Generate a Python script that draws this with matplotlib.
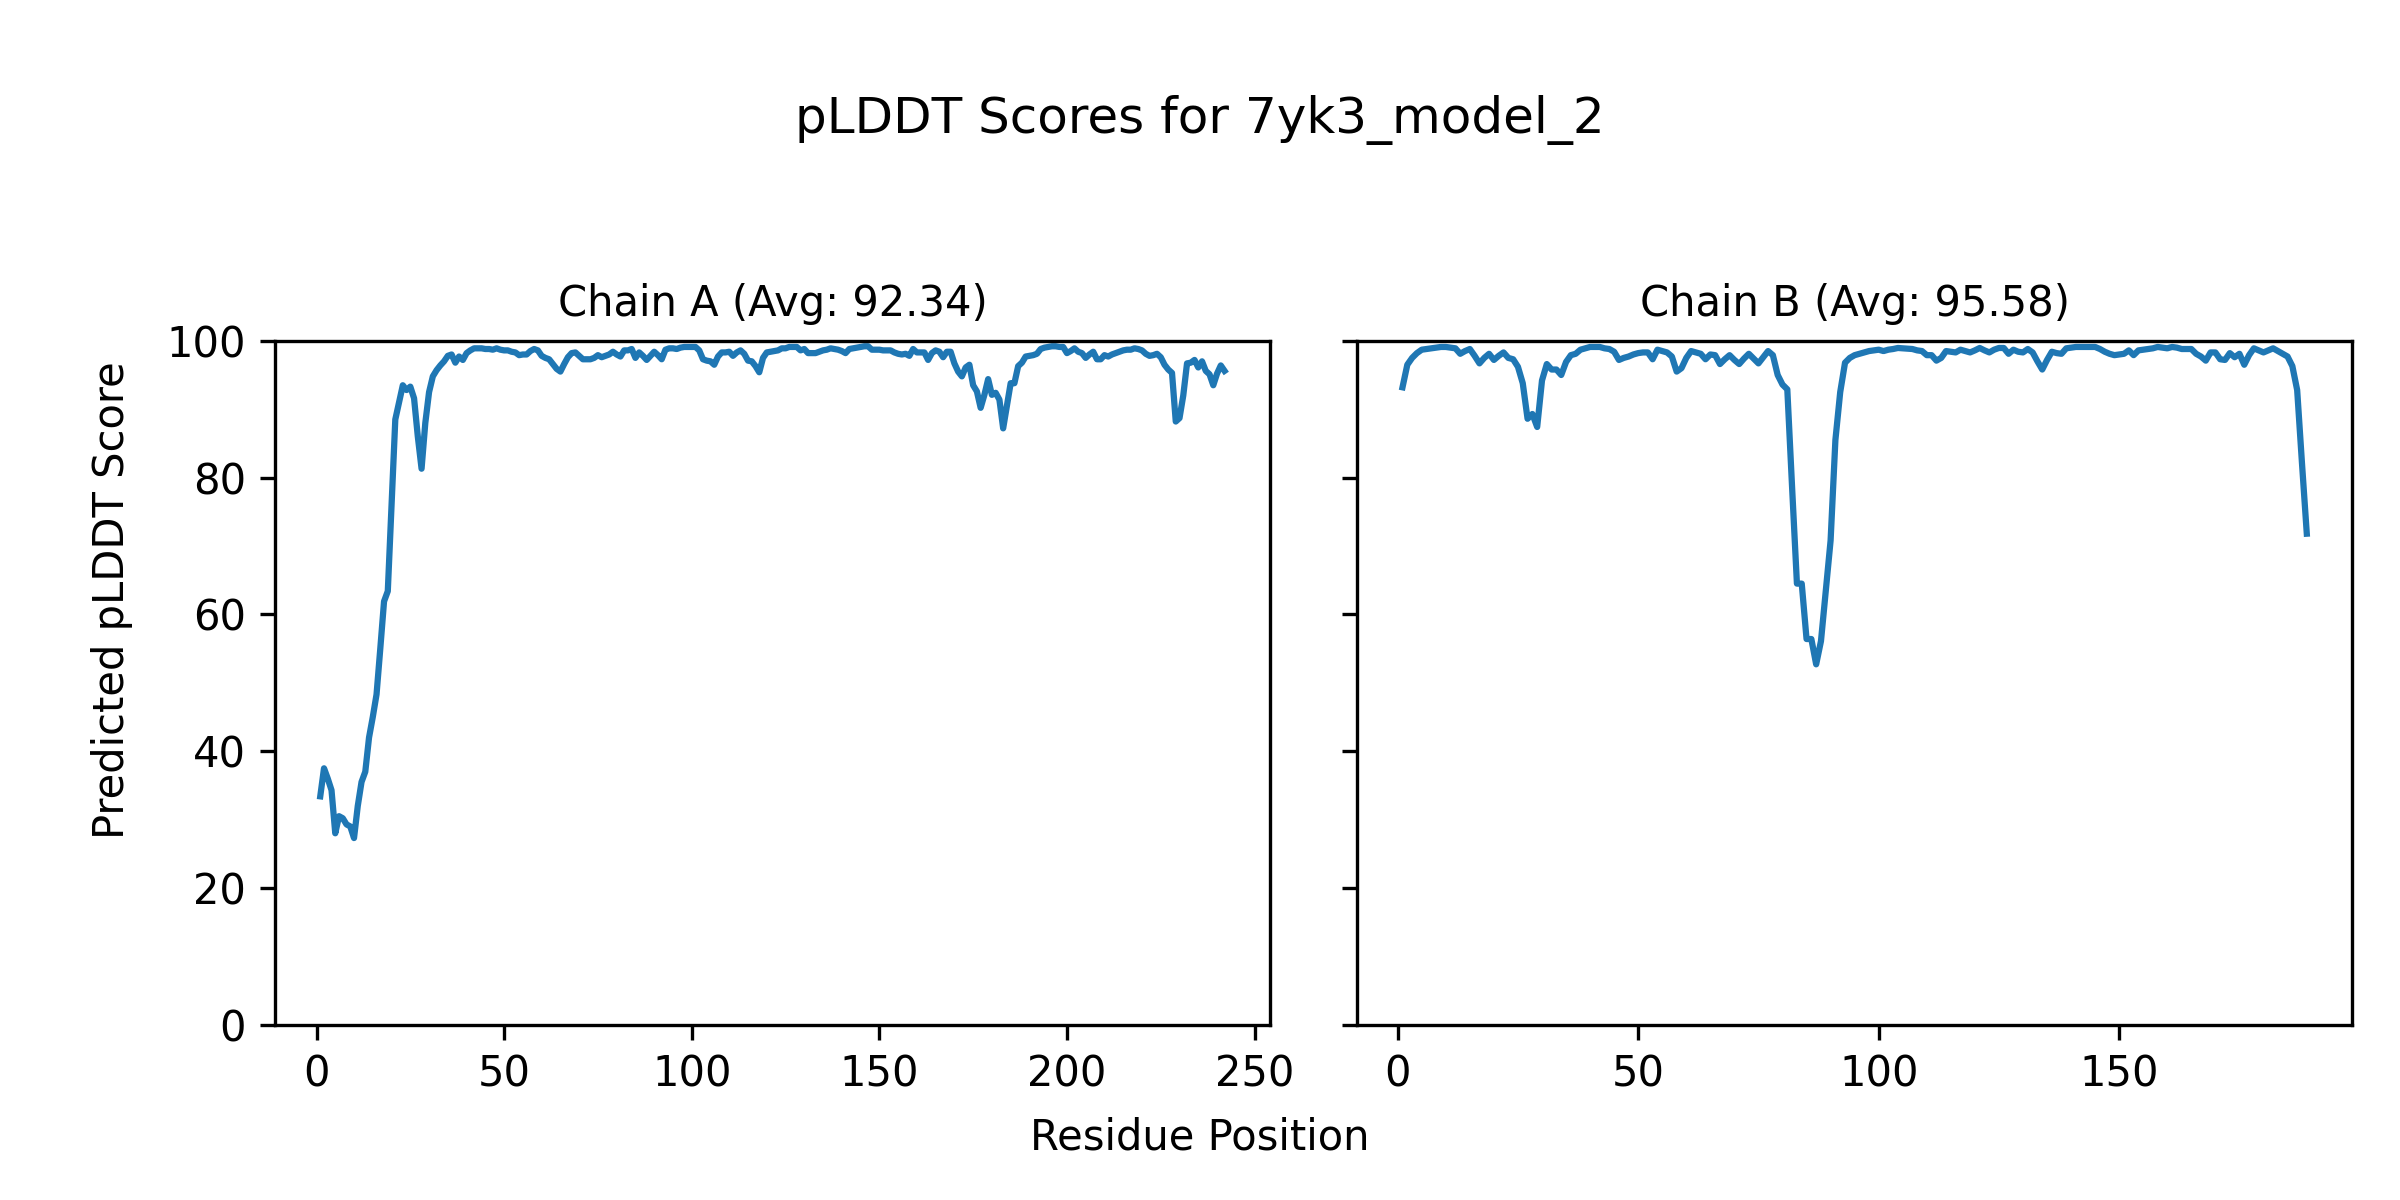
import numpy as np
import matplotlib
matplotlib.use("Agg")
import matplotlib.pyplot as plt

model_name = "7yk3_model_2"

# per-residue pLDDT, chain A (residues 1..242)
chain_a_plddt = [
    33.4, 37.5, 36.0, 34.3, 28.0, 30.5, 30.2, 29.3, 29.0, 27.3,
    32.0, 35.5, 37.0, 42.0, 45.0, 48.3, 55.0, 61.9, 63.4, 76.0,
    88.5, 91.0, 93.5, 92.8, 93.3, 91.6, 86.0, 81.3, 88.0, 92.5,
    94.8, 95.7, 96.4, 97.0, 97.8, 98.0, 96.8, 97.7, 97.2, 98.2,
    98.6, 98.9, 98.9, 98.9, 98.8, 98.8, 98.7, 98.9, 98.7, 98.6,
    98.6, 98.4, 98.3, 97.9, 98.0, 98.0, 98.5, 98.8, 98.6, 97.8,
    97.5, 97.3, 96.6, 95.9, 95.5, 96.6, 97.6, 98.2, 98.3, 97.8,
    97.3, 97.3, 97.3, 97.5, 97.9, 97.6, 97.8, 98.0, 98.4, 98.0,
    97.7, 98.6, 98.6, 98.8, 97.5, 98.3, 97.8, 97.2, 97.8, 98.4,
    97.9, 97.3, 98.7, 98.9, 98.9, 98.8, 99.0, 99.1, 99.1, 99.1,
    99.1, 98.6, 97.3, 97.1, 97.0, 96.5, 97.7, 98.3, 98.3, 98.4,
    97.8, 98.3, 98.6, 98.1, 97.1, 97.0, 96.3, 95.4, 97.5, 98.3,
    98.4, 98.5, 98.6, 98.9, 98.9, 99.1, 99.1, 99.1, 98.6, 98.8,
    98.2, 98.2, 98.2, 98.4, 98.6, 98.7, 98.9, 98.8, 98.7, 98.5,
    98.2, 98.8, 98.9, 99.0, 99.1, 99.2, 99.2, 98.7, 98.7, 98.7,
    98.6, 98.6, 98.6, 98.3, 98.1, 98.0, 98.1, 97.8, 98.8, 98.3,
    98.3, 98.3, 97.2, 98.2, 98.6, 98.4, 97.6, 98.4, 98.4, 96.7,
    95.5, 94.8, 96.1, 96.5, 93.5, 92.6, 90.2, 92.1, 94.4, 92.1,
    92.4, 91.4, 87.2, 90.5, 93.8, 93.8, 96.3, 96.8, 97.7, 97.8,
    97.9, 98.1, 98.8, 99.0, 99.1, 99.2, 99.2, 99.1, 99.1, 98.2,
    98.5, 98.9, 98.4, 98.2, 97.5, 98.0, 98.4, 97.3, 97.3, 97.9,
    97.7, 98.0, 98.2, 98.4, 98.6, 98.7, 98.7, 98.9, 98.8, 98.6,
    98.1, 97.8, 97.9, 98.1, 97.6, 96.5, 95.8, 95.3, 88.2, 88.7,
    92.0, 96.7, 96.8, 97.2, 96.1, 97.0, 95.6, 95.1, 93.5, 95.2,
    96.4, 95.6,
]

# per-residue pLDDT, chain B (residues 1..189)
chain_b_plddt = [
    93.2, 96.5, 97.5, 98.2, 98.7, 98.8, 98.9, 99.0, 99.1, 99.1,
    99.0, 98.9, 98.1, 98.5, 98.8, 97.8, 96.7, 97.5, 98.1, 97.2,
    97.8, 98.3, 97.5, 97.3, 96.2, 93.8, 88.6, 89.3, 87.4, 94.2,
    96.6, 95.8, 95.8, 95.0, 96.9, 97.9, 98.1, 98.7, 98.9, 99.1,
    99.1, 99.1, 98.9, 98.8, 98.4, 97.2, 97.5, 97.7, 98.0, 98.2,
    98.3, 98.3, 97.3, 98.7, 98.5, 98.3, 97.7, 95.5, 96.0, 97.5,
    98.5, 98.3, 98.1, 97.3, 98.0, 97.9, 96.6, 97.3, 97.9, 97.2,
    96.6, 97.4, 98.1, 97.4, 96.7, 97.6, 98.5, 97.9, 95.0, 93.6,
    92.9, 78.5, 64.5, 64.5, 56.4, 56.4, 52.7, 56.1, 63.5, 70.8,
    85.5, 92.5, 96.8, 97.5, 97.9, 98.1, 98.3, 98.5, 98.6, 98.7,
    98.5, 98.7, 98.8, 98.95, 98.9, 98.85, 98.8, 98.6, 98.5, 97.9,
    97.9, 97.1, 97.5, 98.5, 98.4, 98.3, 98.7, 98.5, 98.3, 98.6,
    98.95, 98.6, 98.3, 98.7, 98.95, 98.95, 98.1, 98.7, 98.4, 98.3,
    98.8, 98.3, 97.0, 95.8, 97.2, 98.4, 98.2, 98.1, 98.9, 99.0,
    99.1, 99.1, 99.1, 99.1, 99.1, 98.8, 98.4, 98.1, 97.9, 98.0,
    98.1, 98.6, 97.9, 98.6, 98.7, 98.8, 98.9, 99.1, 99.0, 98.9,
    99.1, 99.0, 98.8, 98.8, 98.8, 98.1, 97.7, 97.1, 98.3, 98.3,
    97.3, 97.2, 98.2, 97.6, 98.1, 96.5, 97.9, 98.9, 98.6, 98.3,
    98.6, 98.9, 98.5, 98.1, 97.7, 96.3, 92.8, 82.1, 71.8,
]

chains = {"A": chain_a_plddt, "B": chain_b_plddt}
chain_avgs = {"A": 92.34, "B": 95.58}

fig, axes = plt.subplots(1, 2, figsize=(8, 4), sharey=True)

for ax, (chain_id, scores) in zip(axes, chains.items()):
    residues = np.arange(1, len(scores) + 1)
    ax.plot(residues, scores, color="#1f77b4", linewidth=1.5)
    ax.set_title(f"Chain {chain_id} (Avg: {chain_avgs[chain_id]:.2f})", fontsize=10)
    ax.set_ylim(0, 100)

fig.suptitle(f"pLDDT Scores for {model_name}", fontsize=12, y=0.90, va="center")
fig.supxlabel("Residue Position", fontsize=10, y=0.0525, va="center")
fig.supylabel("Predicted pLDDT Score", fontsize=10, x=0.0465, ha="center", va="center")

fig.subplots_adjust(left=0.1146, right=0.98, bottom=0.146, top=0.716, wspace=0.088)
plt.savefig("out.png", dpi=300)
plt.close(fig)
